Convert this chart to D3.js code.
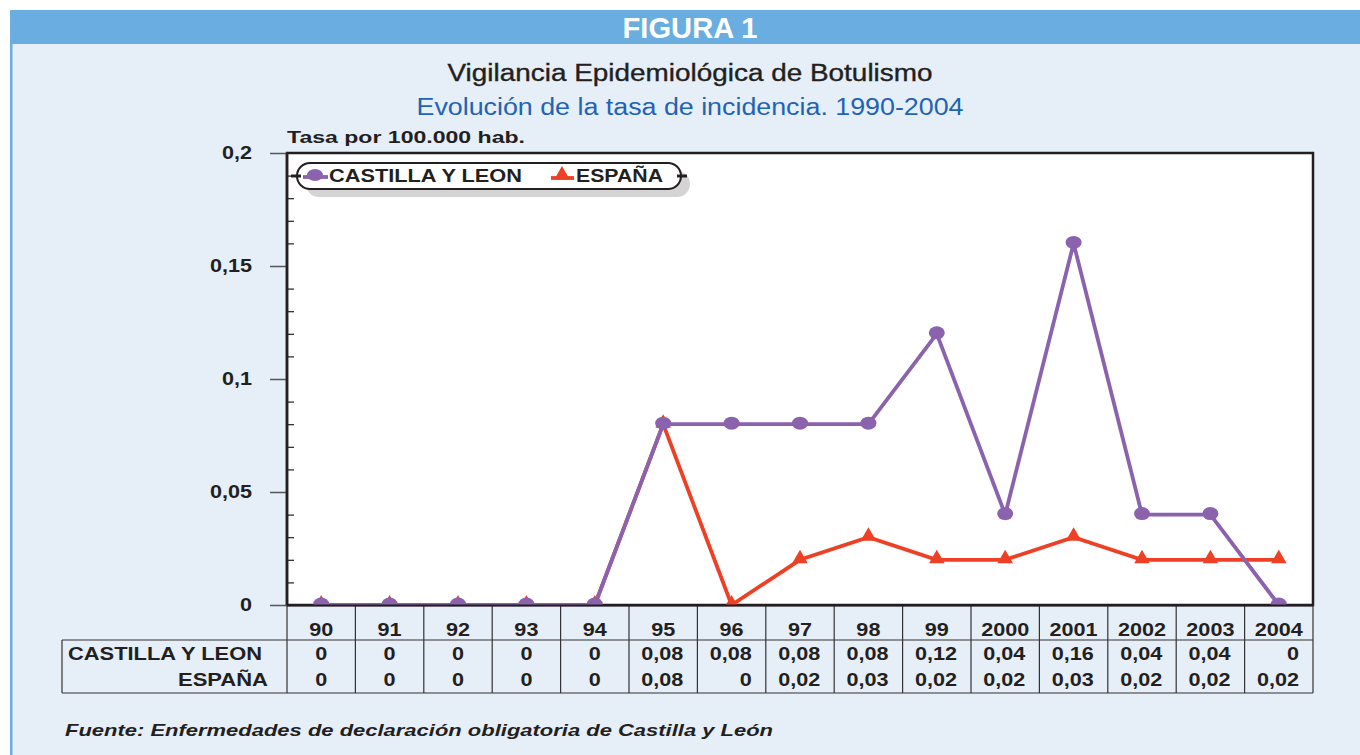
<!DOCTYPE html>
<html>
<head>
<meta charset="utf-8">
<script src="https://cdn.jsdelivr.net/npm/d3@7"></script>
<style>
  body { margin: 0; background: #fff; }
  text { font-family: "Liberation Sans", Arial, sans-serif; }
</style>
</head>
<body>
<div id="chart"></div>
<script>
// Input data
const years = ['90', '91', '92', '93', '94', '95', '96', '97', '98', '99', '2000', '2001', '2002', '2003', '2004'];
const castilla = [0, 0, 0, 0, 0, 0.08, 0.08, 0.08, 0.08, 0.12, 0.04, 0.16, 0.04, 0.04, 0];
const espana = [0, 0, 0, 0, 0, 0.08, 0, 0.02, 0.03, 0.02, 0.02, 0.03, 0.02, 0.02, 0.02];
const yTicks = [0, 0.05, 0.1, 0.15, 0.2];

const width = 1360;
const height = 755;
const purple = '#8a62ad';
const red = '#ee4024';
const ink = '#231f20';

// the source font is wider than Liberation Sans, so widen text a bit
function stretch(sel, k) {
  sel.each(function() {
    const w = this.getComputedTextLength();
    d3.select(this).attr('textLength', w * k).attr('lengthAdjust', 'spacingAndGlyphs');
  });
}
function fit(sel, w) {
  sel.attr('textLength', w).attr('lengthAdjust', 'spacingAndGlyphs');
}

const svg = d3.select('#chart')
  .append('svg')
  .attr('width', width)
  .attr('height', height);

// Frame
svg.append('rect').attr('x', 10).attr('y', 10).attr('width', width - 10).attr('height', height - 10).attr('fill', '#e6eef8');
svg.append('rect').attr('x', 10).attr('y', 10).attr('width', width - 10).attr('height', 34).attr('fill', '#6aade0');
svg.append('rect').attr('x', 10).attr('y', 10).attr('width', 2.5).attr('height', height - 10).attr('fill', '#6aade0');

svg.append('text')
  .attr('x', 690).attr('y', 38)
  .attr('text-anchor', 'middle')
  .attr('fill', '#fff')
  .attr('font-weight', 'bold')
  .attr('font-size', 30)
  .text('FIGURA 1')
  .call(fit, 135);

svg.append('text')
  .attr('x', 690).attr('y', 81)
  .attr('text-anchor', 'middle')
  .attr('fill', ink)
  .attr('font-size', 23)
  .attr('stroke', ink).attr('stroke-width', 0.35)
  .text('Vigilancia Epidemiológica de Botulismo')
  .call(fit, 485);

svg.append('text')
  .attr('x', 690).attr('y', 115)
  .attr('text-anchor', 'middle')
  .attr('fill', '#1f63b3')
  .attr('font-size', 23)
  .text('Evolución de la tasa de incidencia. 1990-2004')
  .call(fit, 547);

svg.append('text')
  .attr('x', 287).attr('y', 143)
  .attr('font-weight', 'bold')
  .attr('font-size', 17)
  .attr('fill', ink)
  .text('Tasa por 100.000 hab.')
  .call(fit, 238);

// Scales
const pLeft = 287, pRight = 1313, pTop = 153, pBottom = 605;
const x = d3.scaleBand().domain(years).range([pLeft, pRight]);
const y = d3.scaleLinear().domain([0, 0.2]).range([pBottom, pTop]);
const cx = d => x(d) + x.bandwidth() / 2;

// Plot background
svg.append('rect')
  .attr('x', pLeft).attr('y', pTop)
  .attr('width', pRight - pLeft).attr('height', pBottom - pTop)
  .attr('fill', '#fff')
  .attr('stroke', ink).attr('stroke-width', 2.5);

svg.append('clipPath').attr('id', 'plot')
  .append('rect')
  .attr('x', pLeft).attr('y', pTop)
  .attr('width', pRight - pLeft).attr('height', pBottom - pTop);

// Y axis (major, outward)
const fmt = d => d3.format('~g')(d).replace('.', ',');
const yAxis = svg.append('g')
  .attr('transform', `translate(${pLeft},0)`)
  .call(d3.axisLeft(y).tickValues(yTicks).tickSize(17).tickPadding(18).tickFormat(fmt));
yAxis.select('.domain').remove();
yAxis.selectAll('line').attr('stroke', '#555').attr('stroke-width', 1.5);
yAxis.selectAll('text')
  .attr('font-family', '"Liberation Sans", Arial, sans-serif')
  .attr('font-weight', 'bold').attr('font-size', 18).attr('fill', ink)
  .call(stretch, 1.2);

// Minor ticks (inward)
const minor = d3.range(1, 20).map(i => i / 100).filter(v => Math.round(v * 100) % 5 !== 0);
const yMinor = svg.append('g')
  .attr('transform', `translate(${pLeft},0)`)
  .call(d3.axisRight(y).tickValues(minor).tickSize(7).tickFormat(''));
yMinor.select('.domain').remove();
yMinor.selectAll('line').attr('stroke', ink).attr('stroke-width', 1.2);

// Left axis line
svg.append('line')
  .attr('x1', pLeft).attr('x2', pLeft).attr('y1', pTop).attr('y2', pBottom)
  .attr('stroke', ink).attr('stroke-width', 2.5);

// Data table below
const tableTop = 640, tableBottom = 693;
const grid = svg.append('g').attr('stroke', '#333').attr('stroke-width', 1.2);
years.forEach(d => {
  grid.append('line').attr('x1', x(d)).attr('x2', x(d)).attr('y1', pBottom).attr('y2', tableBottom);
});
grid.append('line').attr('x1', pRight).attr('x2', pRight).attr('y1', pBottom).attr('y2', tableBottom);
grid.append('line').attr('x1', 62).attr('x2', 62).attr('y1', tableTop).attr('y2', tableBottom);
grid.append('line').attr('x1', 62).attr('x2', pRight).attr('y1', tableTop).attr('y2', tableTop);
grid.append('line').attr('x1', 62).attr('x2', pRight).attr('y1', tableBottom).attr('y2', tableBottom);

const tbl = svg.append('g')
  .attr('font-weight', 'bold').attr('font-size', 18).attr('fill', ink);

tbl.selectAll('.yr')
  .data(years).enter().append('text')
  .attr('x', cx).attr('y', 636)
  .attr('text-anchor', 'middle')
  .text(d => d)
  .call(stretch, 1.2);

tbl.append('text').attr('x', 68).attr('y', 660).text('CASTILLA Y LEON').call(fit, 194);
tbl.append('text').attr('x', 268).attr('y', 686).attr('text-anchor', 'end').text('ESPAÑA').call(fit, 90);

function rowValues(vals, yy) {
  tbl.selectAll(null)
    .data(vals).enter().append('text')
    .attr('x', (v, i) => i < 5 ? cx(years[i]) : x(years[i]) + x.bandwidth() - 14)
    .attr('y', yy)
    .attr('text-anchor', (v, i) => i < 5 ? 'middle' : 'end')
    .text(v => v === 0 ? '0' : d3.format('.2f')(v).replace('.', ','))
    .call(stretch, 1.2);
}
rowValues(castilla, 660);
rowValues(espana, 686);

// Lines and markers, clipped to the plot area
const marks = svg.append('g').attr('clip-path', 'url(#plot)');
const line = d3.line()
  .x((v, i) => cx(years[i]))
  .y(v => y(v));

marks.append('path')
  .datum(espana)
  .attr('d', line)
  .attr('fill', 'none')
  .attr('stroke', red).attr('stroke-width', 3.8);

const tri = d3.symbol().type(d3.symbolTriangle).size(105);
marks.selectAll('.tri')
  .data(espana).enter().append('path')
  .attr('d', tri)
  .attr('transform', (v, i) => `translate(${cx(years[i])},${y(v) - 1})`)
  .attr('fill', red);

marks.append('path')
  .datum(castilla)
  .attr('d', line)
  .attr('fill', 'none')
  .attr('stroke', purple).attr('stroke-width', 3.8);

marks.selectAll('.dot')
  .data(castilla).enter().append('ellipse')
  .attr('cx', (v, i) => cx(years[i]))
  .attr('cy', v => y(v) - 1)
  .attr('rx', 8).attr('ry', 6.5)
  .attr('fill', purple);

// Bottom axis line over the clipped marks
svg.append('line')
  .attr('x1', pLeft).attr('x2', pRight).attr('y1', pBottom + 0.5).attr('y2', pBottom + 0.5)
  .attr('stroke', ink).attr('stroke-width', 2);

// Legend
const lg = svg.append('g');
lg.append('rect')
  .attr('x', 306).attr('y', 171).attr('width', 384).attr('height', 26).attr('rx', 13)
  .attr('fill', '#d4d4d4');
lg.append('rect')
  .attr('x', 297).attr('y', 163).attr('width', 384).attr('height', 26).attr('rx', 13)
  .attr('fill', '#fff').attr('stroke', ink).attr('stroke-width', 2);
lg.append('line').attr('x1', 677).attr('x2', 687).attr('y1', 176).attr('y2', 176).attr('stroke', ink).attr('stroke-width', 3);
lg.append('line').attr('x1', 291).attr('x2', 301).attr('y1', 176).attr('y2', 176).attr('stroke', ink).attr('stroke-width', 3);

lg.append('line').attr('x1', 303).attr('x2', 328).attr('y1', 177).attr('y2', 177).attr('stroke', purple).attr('stroke-width', 3.8);
lg.append('ellipse').attr('cx', 315).attr('cy', 175).attr('rx', 8).attr('ry', 6).attr('fill', purple);
lg.append('text').attr('x', 329).attr('y', 182)
  .attr('font-weight', 'bold').attr('font-size', 17.5).attr('fill', ink)
  .text('CASTILLA Y LEON')
  .call(fit, 193);

lg.append('line').attr('x1', 551).attr('x2', 574).attr('y1', 178).attr('y2', 178).attr('stroke', red).attr('stroke-width', 3.8);
lg.append('path').attr('d', tri).attr('transform', 'translate(562,175)').attr('fill', red);
lg.append('text').attr('x', 576).attr('y', 182)
  .attr('font-weight', 'bold').attr('font-size', 17.5).attr('fill', ink)
  .text('ESPAÑA')
  .call(fit, 87);

// Source
svg.append('text')
  .attr('x', 65).attr('y', 736)
  .attr('font-weight', 'bold').attr('font-style', 'italic')
  .attr('font-size', 17).attr('fill', ink)
  .text('Fuente: Enfermedades de declaración obligatoria de Castilla y León')
  .call(fit, 708);
</script>
</body>
</html>
